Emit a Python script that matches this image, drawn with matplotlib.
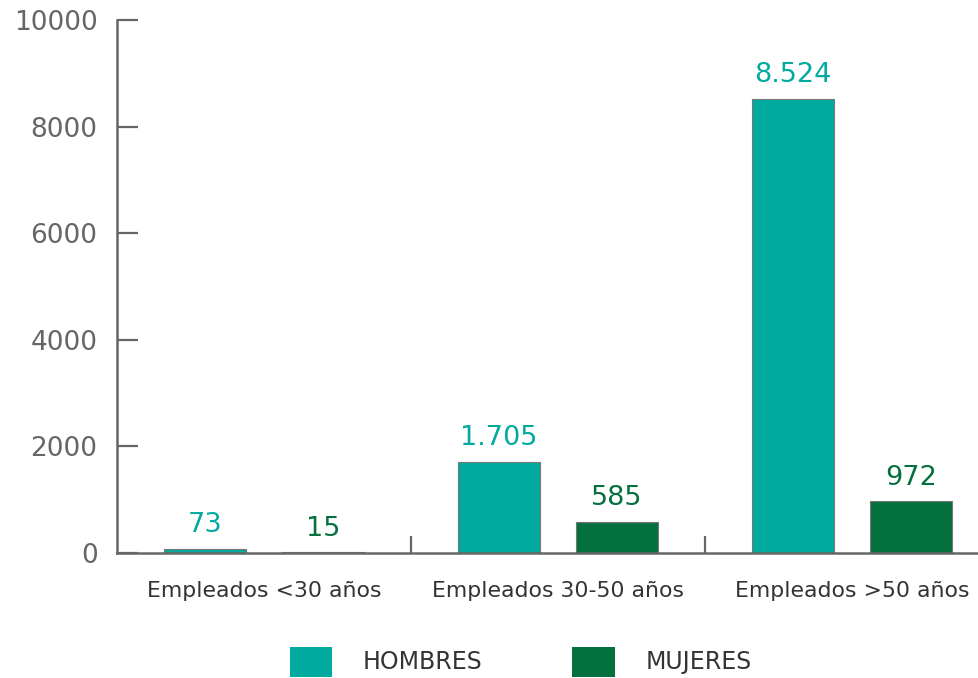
import numpy as np
import matplotlib
matplotlib.use('Agg')
import matplotlib.pyplot as plt
from matplotlib.patches import Patch

categories = ['Empleados <30 años', 'Empleados 30-50 años', 'Empleados >50 años']
hombres = [73, 1705, 8524]
mujeres = [15, 585, 972]
hombres_labels = ['73', '1.705', '8.524']
mujeres_labels = ['15', '585', '972']
y_ticks = [0, 2000, 4000, 6000, 8000, 10000]

TEAL = '#00aa9e'
GREEN = '#03703d'
GREY = '#666666'

plt.rcParams['font.family'] = ['DejaVu Sans']

fig = plt.figure(figsize=(9.79, 6.78), dpi=100)
ax = fig.add_axes([0.1195, 0.1844, 0.9009, 0.786])

x = np.arange(len(categories))
width = 0.28
offset = 0.2
ax.bar(x - offset, hombres, width, color=TEAL, edgecolor='#777777', linewidth=0.8)
ax.bar(x + offset, mujeres, width, color=GREEN, edgecolor='#777777', linewidth=0.8)

for xi, val, lab in zip(x, hombres, hombres_labels):
    ax.text(xi - offset, val + 200, lab, ha='center', va='bottom',
            color=TEAL, fontsize=19.5)
for xi, val, lab in zip(x, mujeres, mujeres_labels):
    ax.text(xi + offset, val + 200, lab, ha='center', va='bottom',
            color=GREEN, fontsize=19.5)

ax.set_xlim(-0.5, 2.5)
ax.set_ylim(0, 10000)
ax.set_yticks(y_ticks)
ax.set_yticklabels([str(v) for v in y_ticks], fontsize=19, color=GREY)
ax.tick_params(axis='y', direction='in', length=15, width=1.6, color=GREY, pad=14)

ax.set_xticks(x)
ax.set_xticklabels(categories, fontsize=15.8, color='#333333')
ax.tick_params(axis='x', which='major', length=0, pad=20)
ax.set_xticks([0.5, 1.5], minor=True)
ax.tick_params(axis='x', which='minor', direction='in', length=12, width=1.6, color=GREY)

for side in ['top', 'right']:
    ax.spines[side].set_visible(False)
for side in ['left', 'bottom']:
    ax.spines[side].set_color(GREY)
    ax.spines[side].set_linewidth(1.8)

handles = [Patch(facecolor=TEAL, label='HOMBRES'), Patch(facecolor=GREEN, label='MUJERES')]
fig.legend(handles=handles, loc='center', bbox_to_anchor=(0.532, 0.024), ncol=2,
           frameon=False, fontsize=17, handlelength=1.8, handleheight=1.6,
           handletextpad=1.3, columnspacing=3.8, labelcolor='#333333')

fig.savefig('out.png', dpi=100)
